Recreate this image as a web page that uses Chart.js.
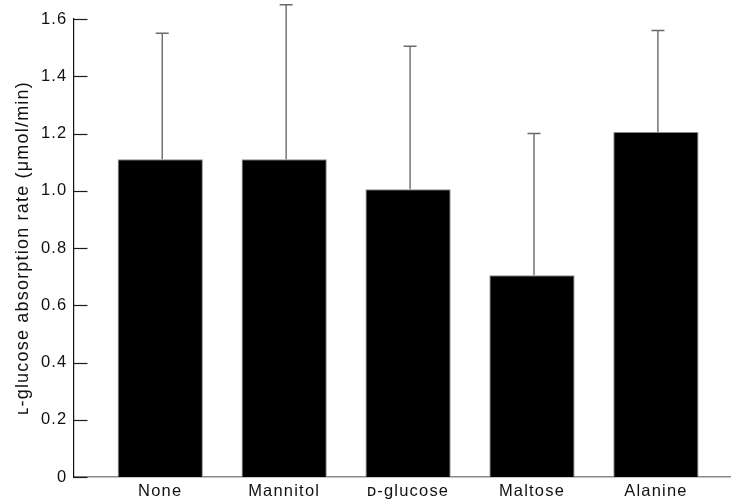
<!DOCTYPE html>
<html>
<head>
<meta charset="utf-8">
<script src="https://cdn.jsdelivr.net/npm/chart.js@4"></script>
<style>
  body { margin: 0; background: #fff; }
  #wrap { width: 731px; height: 502px; }
</style>
</head>
<body>
<div id="wrap"><canvas id="chart"></canvas></div>
<script>
// data
const categories = ['None', 'Mannitol', 'ᴅ-glucose', 'Maltose', 'Alanine'];
const means = [1.11, 1.11, 1.005, 0.705, 1.205];
const sds = [0.44, 0.54, 0.50, 0.495, 0.355];
const yTicks = [0, 0.2, 0.4, 0.6, 0.8, 1.0, 1.2, 1.4, 1.6];

const FONT = { family: '"Liberation Sans", Arial, sans-serif', size: 16.5 };

// canvas letter spacing, the original lettering is a bit loose
const spacing = {
  id: 'spacing',
  beforeDraw(chart) { chart.ctx.letterSpacing = '1.2px'; }
};

// error bars (upward only) + inward y ticks
const extras = {
  id: 'extras',
  afterDatasetsDraw(chart) {
    const { ctx, scales: { x, y } } = chart;
    ctx.save();
    ctx.strokeStyle = '#6a6a6a';
    ctx.lineWidth = 1.4;
    means.forEach((m, i) => {
      const px = x.getPixelForValue(i) + 2;
      const yb = y.getPixelForValue(m);
      const yt = y.getPixelForValue(m + sds[i]);
      ctx.beginPath();
      ctx.moveTo(px, yb);
      ctx.lineTo(px, yt);
      ctx.moveTo(px - 6.5, yt);
      ctx.lineTo(px + 6.5, yt);
      ctx.stroke();
    });
    ctx.restore();
  },
  afterDraw(chart) {
    const { ctx, chartArea, scales: { y } } = chart;
    ctx.save();
    ctx.strokeStyle = '#1a1a1a';
    ctx.lineWidth = 1.2;
    yTicks.forEach(v => {
      const py = Math.round(y.getPixelForValue(v)) + 0.5;
      ctx.beginPath();
      ctx.moveTo(chartArea.left, py);
      ctx.lineTo(chartArea.left + 14, py);
      ctx.stroke();
    });
    ctx.restore();
  }
};

new Chart(document.getElementById('chart'), {
  type: 'bar',
  data: {
    datasets: [{
      data: means.map((v, i) => ({ x: i, y: v })),
      backgroundColor: '#000',
      borderColor: '#8a8a8a',
      borderWidth: 1,
      categoryPercentage: 1,
      barPercentage: 0.688
    }]
  },
  options: {
    responsive: true,
    maintainAspectRatio: false,
    animation: false,
    layout: { padding: { left: 12.7, top: 19, right: 0, bottom: 0 } },
    plugins: { legend: { display: false }, tooltip: { enabled: false } },
    scales: {
      x: {
        type: 'linear',
        offset: false,
        min: -0.70,
        max: 4.606,
        grid: { display: false, drawTicks: false, offset: false },
        border: { display: true, color: '#8a8a8a', width: 1.5 },
        afterBuildTicks: axis => { axis.ticks = categories.map((c, i) => ({ value: i })); },
        afterFit: axis => { axis.height = 25; },
        ticks: {
          autoSkip: false,
          maxRotation: 0,
          padding: 5,
          color: '#111',
          font: FONT,
          callback: v => categories[v]
        }
      },
      y: {
        min: 0,
        max: 1.6,
        grid: { display: false, drawTicks: false },
        border: { display: true, color: '#111', width: 1.2 },
        afterBuildTicks: axis => { axis.ticks = yTicks.map(v => ({ value: v })); },
        afterFit: axis => { axis.width = 73.5 - 12.7; },
        ticks: {
          padding: 6,
          color: '#111',
          font: FONT,
          callback: v => (v === 0 ? '0' : v.toFixed(1))
        },
        title: {
          display: true,
          text: 'ʟ-glucose absorption rate (μmol/min)',
          color: '#111',
          font: { family: FONT.family, size: 18 },
          padding: 0
        }
      }
    }
  },
  plugins: [spacing, extras]
});
</script>
</body>
</html>
